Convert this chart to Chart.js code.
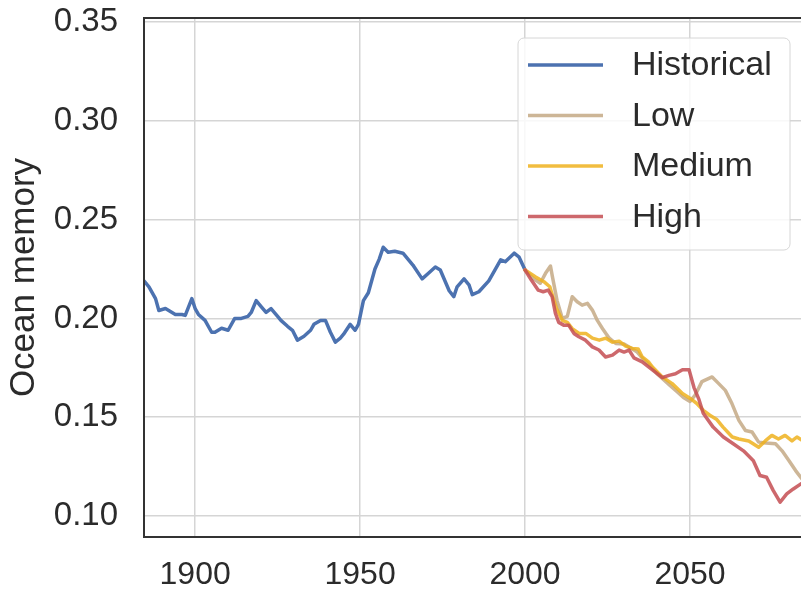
<!DOCTYPE html>
<html>
<head>
<meta charset="utf-8">
<script src="https://cdn.jsdelivr.net/npm/chart.js@4.4.1/dist/chart.umd.min.js"></script>
<style>
  html, body { margin: 0; padding: 0; background: #fff; overflow: hidden; }
  #wrap { width: 860px; height: 592px; }
</style>
</head>
<body>
<div id="wrap"><canvas id="chart" width="860" height="592"></canvas></div>
<script>
// Historical ocean memory
const histYears = [1884.5, 1886, 1888, 1889, 1891, 1892, 1894, 1896, 1897, 1899, 1900, 1901, 1903, 1905, 1906, 1908, 1910,
  1912, 1914, 1916, 1917, 1918.5, 1920, 1921.5, 1923, 1925, 1926, 1928, 1929.5, 1931, 1933, 1935, 1936, 1938, 1939.5,
  1941, 1942.5, 1944, 1945, 1947, 1948.5, 1949.5, 1951, 1952.5, 1954.5, 1955.8, 1957, 1958.5, 1960.5, 1963, 1964.5,
  1966, 1968.8, 1970.8, 1972.8, 1974.3, 1977, 1978.4, 1979.4, 1981.5, 1983, 1984, 1986, 1989, 1992.6, 1994, 1996.7,
  1998.2, 2000];
const histValues = [0.219, 0.216, 0.210, 0.204, 0.205, 0.204, 0.202, 0.202, 0.2015, 0.210, 0.205, 0.202, 0.199, 0.193,
  0.193, 0.195, 0.194, 0.200, 0.200, 0.201, 0.203, 0.209, 0.206, 0.203, 0.205, 0.201, 0.199, 0.196, 0.194, 0.189,
  0.191, 0.194, 0.197, 0.199, 0.199, 0.193, 0.188, 0.190, 0.192, 0.197, 0.194, 0.197, 0.209, 0.213, 0.225, 0.230,
  0.236, 0.2335, 0.234, 0.233, 0.230, 0.227, 0.220, 0.223, 0.226, 0.2245, 0.214, 0.211, 0.216, 0.220, 0.217, 0.212,
  0.2135, 0.219, 0.2296, 0.2287, 0.233, 0.231, 0.2245];

// Scenario projections
const lowYears = [2000, 2002.6, 2004.6, 2006.2, 2007.7, 2008.3, 2009.7, 2011.3, 2012.8, 2014.3, 2015.8, 2017.3, 2018.9,
  2020.4, 2021.9, 2023.5, 2025.5, 2027.5, 2030, 2032, 2034, 2036, 2038, 2040, 2042, 2044, 2046, 2048, 2050, 2051.5,
  2053.6, 2056.7, 2058.7, 2060.7, 2062.7, 2064.8, 2066.8, 2068.8, 2070.8, 2073, 2075.9, 2077.9, 2080, 2082, 2084.3, 2086];
const lowValues = [0.2245, 0.220, 0.2178, 0.2228, 0.2265, 0.221, 0.209, 0.200, 0.201, 0.211, 0.2084, 0.2067, 0.2076,
  0.2042, 0.199, 0.1948, 0.190, 0.1873, 0.187, 0.185, 0.183, 0.179, 0.176, 0.172, 0.169, 0.166, 0.163, 0.160, 0.158,
  0.161, 0.168, 0.1704, 0.167, 0.1636, 0.1569, 0.1484, 0.1433, 0.1425, 0.1374, 0.137, 0.1366, 0.133, 0.128, 0.123,
  0.118, 0.115];

const medYears = [2000, 2003.2, 2005.7, 2007.5, 2009.5, 2011.3, 2012.8, 2014.3, 2016.4, 2018.4, 2020.4, 2022.5, 2024.5,
  2026.5, 2028.5, 2030.5, 2032.5, 2034.3, 2035.5, 2037.4, 2038.6, 2041.6, 2044.6, 2047.7, 2050.2, 2052, 2054, 2056,
  2058, 2060, 2062.8, 2064.8, 2067.8, 2070.8, 2072.8, 2074.8, 2076.8, 2078.8, 2080.9, 2082.4, 2084.3, 2086];
const medValues = [0.2245, 0.221, 0.2186, 0.216, 0.205, 0.199, 0.198, 0.1948, 0.1924, 0.1924, 0.190, 0.189, 0.190,
  0.188, 0.1885, 0.186, 0.1848, 0.1845, 0.1805, 0.178, 0.1754, 0.1704, 0.167, 0.162, 0.1594, 0.157, 0.1535, 0.151,
  0.149, 0.145, 0.140, 0.139, 0.138, 0.1348, 0.138, 0.1408, 0.139, 0.1408, 0.138, 0.140, 0.138, 0.139];

const highYears = [2000, 2001.9, 2004, 2005.5, 2007, 2008.2, 2009.2, 2010.2, 2011.7, 2013.2, 2014.8, 2016.3, 2018.3,
  2020.4, 2022.4, 2024.4, 2026.5, 2028.5, 2030, 2031.5, 2033, 2035.5, 2038.6, 2041.6, 2043.6, 2045.6, 2047.7, 2049.7,
  2051.2, 2052.7, 2054, 2057, 2060.1, 2063.1, 2066.2, 2069.2, 2071.2, 2073.2, 2075.2, 2077.3, 2079.3, 2081.3, 2083.6, 2086];
const highValues = [0.2245, 0.2194, 0.2143, 0.2135, 0.2143, 0.211, 0.2025, 0.198, 0.1966, 0.1966, 0.1924, 0.1907,
  0.189, 0.1856, 0.184, 0.1805, 0.1814, 0.184, 0.183, 0.184, 0.180, 0.178, 0.174, 0.170, 0.1712, 0.172, 0.174, 0.174,
  0.165, 0.159, 0.152, 0.145, 0.140, 0.1366, 0.133, 0.128, 0.1205, 0.1196, 0.113, 0.107, 0.1112, 0.1137, 0.1163, 0.118];

const seriesNames = ['Historical', 'Low', 'Medium', 'High'];
const seriesColors = ['#4c72b0', 'rgba(200,174,140,0.9)', 'rgba(238,178,30,0.85)', 'rgba(196,78,82,0.85)'];

const xTicks = [1900, 1950, 2000, 2050, 2100];
const yTicks = [0.10, 0.15, 0.20, 0.25, 0.30, 0.35];

const TEXT = '#2b2b2b';
const FONT = "'Liberation Sans', Arial, sans-serif";

function toPoints(xs, ys) {
    return xs.map((x, i) => ({ x: x, y: ys[i] }));
}

// legend box drawn inside the plot, like matplotlib's
const insideLegend = {
    id: 'insideLegend',
    afterDraw(chart) {
        const ctx = chart.ctx;
        const a = chart.chartArea;
        const bx = 518, by = 38, bw = 272, bh = 212;
        ctx.save();
        ctx.beginPath();
        ctx.roundRect(bx, by, bw, bh, 6);
        ctx.fillStyle = 'rgba(255,255,255,0.82)';
        ctx.fill();
        ctx.strokeStyle = '#d6d6d6';
        ctx.lineWidth = 1;
        ctx.stroke();
        ctx.font = '34px ' + FONT;
        ctx.textBaseline = 'middle';
        ctx.textAlign = 'left';
        seriesNames.forEach((name, i) => {
            const y = 65 + i * 50.5;
            ctx.beginPath();
            ctx.moveTo(528, y);
            ctx.lineTo(603, y);
            ctx.strokeStyle = seriesColors[i];
            ctx.lineWidth = 3.5;
            ctx.stroke();
            ctx.fillStyle = TEXT;
            ctx.fillText(name, 632, y + 1);
        });
        // frame
        ctx.strokeStyle = '#333';
        ctx.lineWidth = 2;
        ctx.strokeRect(a.left, a.top, a.right - a.left, a.bottom - a.top);
        ctx.restore();
    }
};

const ctx = document.getElementById('chart').getContext('2d');
new Chart(ctx, {
    type: 'line',
    data: {
        datasets: [
            { label: seriesNames[0], data: toPoints(histYears, histValues), borderColor: seriesColors[0], order: 4 },
            { label: seriesNames[1], data: toPoints(lowYears, lowValues), borderColor: seriesColors[1], order: 3 },
            { label: seriesNames[2], data: toPoints(medYears, medValues), borderColor: seriesColors[2], order: 2 },
            { label: seriesNames[3], data: toPoints(highYears, highValues), borderColor: seriesColors[3], order: 1 }
        ]
    },
    options: {
        responsive: false,
        animation: false,
        layout: { padding: { top: 18, right: 5, left: 0, bottom: 0 } },
        elements: {
            line: { borderWidth: 3.5, tension: 0, borderCapStyle: 'round', borderJoinStyle: 'round' },
            point: { radius: 0 }
        },
        plugins: {
            legend: { display: false },
            tooltip: { enabled: false }
        },
        scales: {
            x: {
                type: 'linear',
                min: 1884.5,
                max: 2100,
                afterBuildTicks: function(scale) {
                    scale.ticks = xTicks.map(v => ({ value: v }));
                },
                afterFit: function(scale) {
                    scale.height = 55;
                    scale.paddingLeft = 0;
                    scale.paddingRight = 0;
                },
                grid: { color: '#d5d5d5', lineWidth: 1.5, drawTicks: false },
                border: { display: false },
                ticks: {
                    color: TEXT,
                    padding: 22,
                    maxRotation: 0,
                    font: { family: FONT, size: 32, lineHeight: 1 },
                    callback: v => String(v)
                }
            },
            y: {
                min: 0.0894,
                max: 0.352,
                afterBuildTicks: function(scale) {
                    scale.ticks = yTicks.map(v => ({ value: v }));
                },
                afterFit: function(scale) {
                    scale.width = 144;
                    scale.paddingTop = 0;
                    scale.paddingBottom = 0;
                },
                grid: { color: '#d5d5d5', lineWidth: 1.5, drawTicks: false },
                border: { display: false },
                ticks: {
                    color: TEXT,
                    padding: 26,
                    font: { family: FONT, size: 33, lineHeight: 1 },
                    callback: v => v.toFixed(2)
                },
                title: {
                    display: true,
                    text: 'Ocean memory',
                    color: TEXT,
                    padding: { top: 7, bottom: 0 },
                    font: { family: FONT, size: 35, lineHeight: 1 }
                }
            }
        }
    },
    plugins: [insideLegend]
});
</script>
</body>
</html>
